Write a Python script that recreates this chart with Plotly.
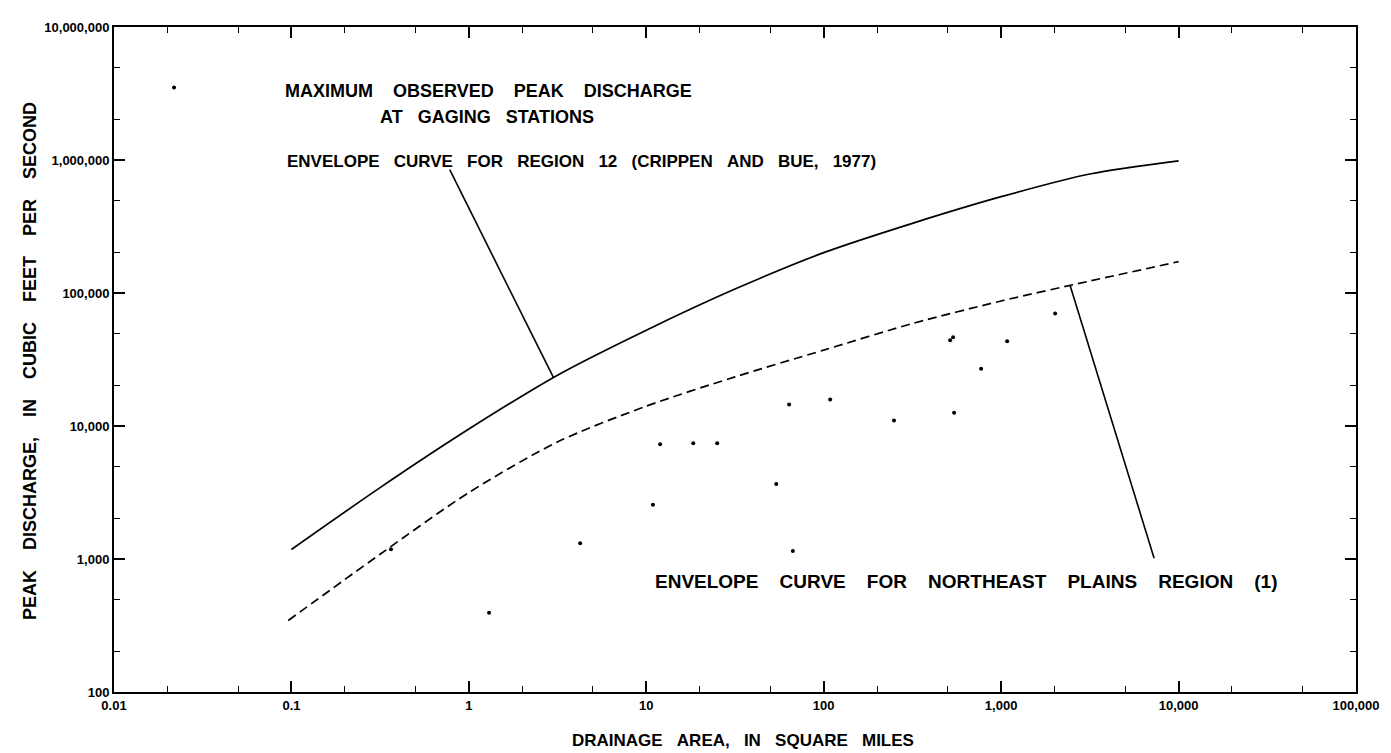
import plotly.graph_objects as go

# ---------------- data ----------------
station_area = [0.0218, 0.364, 1.30, 4.24, 10.9, 11.97, 18.4, 25.1, 54, 63.8, 67, 108.7, 249, 516, 536, 543, 771, 1081, 2015]
station_peak = [3.51e6, 1183, 395, 1312, 2560, 7290, 7420, 7420, 3670, 14500, 1150, 15800, 11000, 44200, 46500, 12600, 26900, 43400, 70200]

region12_area = [0.1, 0.316, 1, 3.16, 10, 31.6, 100, 316, 1000, 3160, 10000]
region12_peak = [1180, 3440, 9480, 24100, 52500, 107000, 201000, 334000, 530000, 785000, 986000]

ne_area = [0.096, 0.316, 1, 3.16, 10, 31.6, 100, 316, 1000, 3160, 10000]
ne_peak = [345, 1086, 3160, 7590, 14100, 23400, 37200, 58900, 87100, 123000, 172000]

leader12_area = [3.0, 0.78]
leader12_peak = [23100, 845000]
leaderne_area = [2450, 7280]
leaderne_peak = [113500, 1014]

x_tickvals = [0.01, 0.1, 1, 10, 100, 1000, 10000, 100000]
x_ticktext = ["0.01", "0.1", "1", "10", "100", "1,000", "10,000", "100,000"]
y_tickvals = [100, 1000, 10000, 100000, 1000000, 10000000]
y_ticktext = ["100", "1,000", "10,000", "100,000", "1,000,000", "10,000,000"]

FONT = "Liberation Sans, Arial, sans-serif"


def gap(n):
    return "\u00a0" * n


def spaced(words, n):
    return gap(n).join(words)


fig = go.Figure()
line_style = dict(color="black", width=1.6)
fig.add_trace(go.Scatter(x=region12_area, y=region12_peak, mode="lines",
                         line=dict(color="black", width=1.7, shape="spline", smoothing=0.8)))
fig.add_trace(go.Scatter(x=ne_area, y=ne_peak, mode="lines",
                         line=dict(color="black", width=1.7, dash="9px,5px", shape="spline", smoothing=0.8)))
fig.add_trace(go.Scatter(x=leader12_area, y=leader12_peak, mode="lines", line=line_style))
fig.add_trace(go.Scatter(x=leaderne_area, y=leaderne_peak, mode="lines", line=line_style))
fig.add_trace(go.Scatter(x=station_area, y=station_peak, mode="markers",
                         marker=dict(color="black", size=4)))

axis_common = dict(
    type="log", showgrid=False, zeroline=False, showline=True, linecolor="black", linewidth=2,
    mirror="ticks", ticks="inside", ticklen=11, tickwidth=1.6, tickcolor="black",
    tickfont=dict(family=FONT, size=13, color="black", weight="bold"),
    minor=dict(ticks="inside", ticklen=6, tickwidth=1.4, tickcolor="black", showgrid=False),
)
fig.update_xaxes(range=[-2, 5], tickvals=x_tickvals, ticktext=x_ticktext, **axis_common)
fig.update_yaxes(range=[2, 7], tickvals=y_tickvals, ticktext=y_ticktext, **axis_common)


def px(x):
    return (x - 106) / 1242


def py(y):
    return (684 - y) / 671


annotations = [
    dict(text=spaced(["MAXIMUM", "OBSERVED", "PEAK", "DISCHARGE"], 4), x=px(275), y=py(78), size=18),
    dict(text=spaced(["AT", "GAGING", "STATIONS"], 3), x=px(370), y=py(104), size=18),
    dict(text=spaced(["ENVELOPE", "CURVE", "FOR", "REGION", "12", "(CRIPPEN", "AND", "BUE,", "1977)"], 3),
         x=px(277), y=py(149), size=17),
    dict(text=spaced(["ENVELOPE", "CURVE", "FOR", "NORTHEAST", "PLAINS", "REGION", "(1)"], 4),
         x=px(645), y=py(572), size=19),
]
for a in annotations:
    size = a.pop("size")
    fig.add_annotation(xref="paper", yref="paper", xanchor="left", yanchor="middle",
                       showarrow=False, font=dict(family=FONT, size=size, color="black", weight="bold"), **a)

fig.add_annotation(text=spaced(["DRAINAGE", "AREA,", "IN", "SQUARE", "MILES"], 3),
                   xref="paper", yref="paper", x=px(735), y=py(733), xanchor="center", yanchor="middle",
                   showarrow=False, font=dict(family=FONT, size=17, color="black", weight="bold"))
fig.add_annotation(text=spaced(["PEAK", "DISCHARGE,", "IN", "CUBIC", "FEET", "PER", "SECOND"], 4),
                   xref="paper", yref="paper", x=px(22), y=py(350), xanchor="center", yanchor="middle",
                   textangle=-90, showarrow=False, font=dict(family=FONT, size=18, color="black", weight="bold"))

fig.update_layout(
    width=1391, height=753, showlegend=False,
    margin=dict(l=106, r=43, t=13, b=69),
    paper_bgcolor="white", plot_bgcolor="white",
    font=dict(family=FONT, color="black"),
)
fig.write_html("out.html")
